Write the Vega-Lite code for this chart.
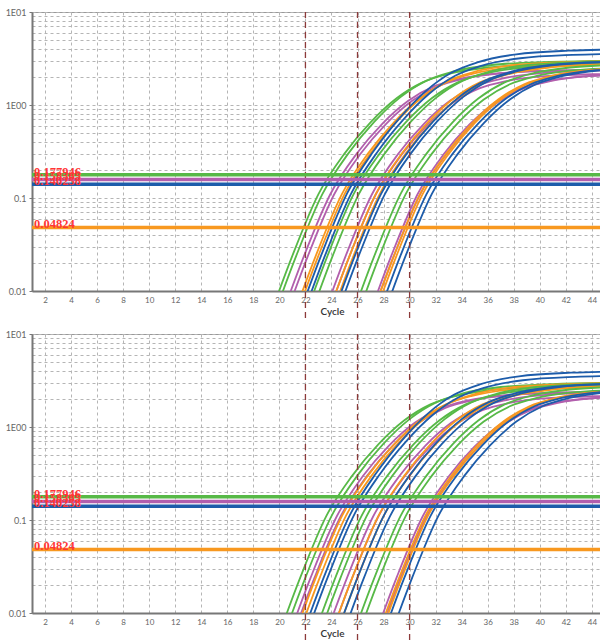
{
"$schema":"https://vega.github.io/schema/vega-lite/v6.json",
"padding":{"top":7,"left":0,"right":0,"bottom":0},
"config":{"view":{"stroke":"#999","strokeWidth":1},"font":"Lato",
"axisX":{"labelOverlap":false,"labelSeparation":0,"labelFontSize":8,"labelColor":"#666","tickSize":0,"labelPadding":5,"domainColor":"#777","domainWidth":2,"gridColor":"#b5b5b5","gridDash":[3,3],"titleFontSize":10,"titleFontWeight":600,"titleColor":"#333","titlePadding":2,"titleX":300,"labelFont":"Lato","titleFont":"Lato","labelFlush":false},
"axisY":{"labelOverlap":false,"labelFontSize":9,"labelColor":"#666","tickSize":3,"tickColor":"#777","labelPadding":3,"minExtent":31,"maxExtent":31,"domainColor":"#777","domainWidth":2,"gridColor":"#b5b5b5","gridDash":[3,3],"labelFont":"Lato"}},
"spacing":7,
"datasets":{
"thr":[{"c":"g","v":0.177946,"l":"0.177946"},{"c":"p","v":0.158365,"l":"0.158365"},{"c":"b","v":0.140258,"l":"0.140258"},{"c":"o","v":0.04824,"l":"0.04824"}],
"vl":[{"x":22},{"x":26},{"x":30}],
"top":[
{"i":"G1","c":"g","x":19,"y":0.0042},{"i":"G1","c":"g","x":21,"y":0.024},{"i":"G1","c":"g","x":23,"y":0.11},{"i":"G1","c":"g","x":25,"y":0.30},{"i":"G1","c":"g","x":27,"y":0.65},{"i":"G1","c":"g","x":29,"y":1.18},{"i":"G1","c":"g","x":31,"y":1.75},{"i":"G1","c":"g","x":33,"y":2.16},{"i":"G1","c":"g","x":36,"y":2.53},{"i":"G1","c":"g","x":40,"y":2.71},{"i":"G1","c":"g","x":46,"y":2.80},
{"i":"G2","c":"g","x":19.3,"y":0.0042},{"i":"G2","c":"g","x":21.3,"y":0.024},{"i":"G2","c":"g","x":23.3,"y":0.11},{"i":"G2","c":"g","x":25.3,"y":0.302},{"i":"G2","c":"g","x":27.3,"y":0.661},{"i":"G2","c":"g","x":29.3,"y":1.215},{"i":"G2","c":"g","x":31.3,"y":1.828},{"i":"G2","c":"g","x":33.3,"y":2.279},{"i":"G2","c":"g","x":36.3,"y":2.693},{"i":"G2","c":"g","x":40.3,"y":2.897},{"i":"G2","c":"g","x":46.3,"y":3.0},
{"i":"P1","c":"p","x":19.9,"y":0.0042},{"i":"P1","c":"p","x":21.9,"y":0.024},{"i":"P1","c":"p","x":23.9,"y":0.109},{"i":"P1","c":"p","x":25.9,"y":0.295},{"i":"P1","c":"p","x":27.9,"y":0.628},{"i":"P1","c":"p","x":29.9,"y":1.109},{"i":"P1","c":"p","x":31.9,"y":1.594},{"i":"P1","c":"p","x":33.9,"y":1.922},{"i":"P1","c":"p","x":36.9,"y":2.203},{"i":"P1","c":"p","x":40.9,"y":2.335},{"i":"P1","c":"p","x":46.9,"y":2.4},
{"i":"P2","c":"p","x":20.2,"y":0.0042},{"i":"P2","c":"p","x":22.2,"y":0.024},{"i":"P2","c":"p","x":24.2,"y":0.109},{"i":"P2","c":"p","x":26.2,"y":0.295},{"i":"P2","c":"p","x":28.2,"y":0.628},{"i":"P2","c":"p","x":30.2,"y":1.109},{"i":"P2","c":"p","x":32.2,"y":1.594},{"i":"P2","c":"p","x":34.2,"y":1.922},{"i":"P2","c":"p","x":37.2,"y":2.203},{"i":"P2","c":"p","x":41.2,"y":2.335},{"i":"P2","c":"p","x":47.2,"y":2.4},
{"i":"O1","c":"o","x":20.8,"y":0.0042},{"i":"O1","c":"o","x":22.8,"y":0.024},{"i":"O1","c":"o","x":24.8,"y":0.11},{"i":"O1","c":"o","x":26.8,"y":0.30},{"i":"O1","c":"o","x":28.8,"y":0.65},{"i":"O1","c":"o","x":30.8,"y":1.18},{"i":"O1","c":"o","x":32.8,"y":1.75},{"i":"O1","c":"o","x":34.8,"y":2.16},{"i":"O1","c":"o","x":37.8,"y":2.53},{"i":"O1","c":"o","x":41.8,"y":2.71},{"i":"O1","c":"o","x":47.8,"y":2.80},
{"i":"O2","c":"o","x":21,"y":0.0042},{"i":"O2","c":"o","x":23,"y":0.024},{"i":"O2","c":"o","x":25,"y":0.11},{"i":"O2","c":"o","x":27,"y":0.302},{"i":"O2","c":"o","x":29,"y":0.661},{"i":"O2","c":"o","x":31,"y":1.215},{"i":"O2","c":"o","x":33,"y":1.828},{"i":"O2","c":"o","x":35,"y":2.279},{"i":"O2","c":"o","x":38,"y":2.693},{"i":"O2","c":"o","x":42,"y":2.897},{"i":"O2","c":"o","x":48,"y":3.0},
{"i":"B1","c":"b","x":21.2,"y":0.0042},{"i":"B1","c":"b","x":23.2,"y":0.024},{"i":"B1","c":"b","x":25.2,"y":0.112},{"i":"B1","c":"b","x":27.2,"y":0.314},{"i":"B1","c":"b","x":29.2,"y":0.715},{"i":"B1","c":"b","x":31.2,"y":1.393},{"i":"B1","c":"b","x":33.2,"y":2.219},{"i":"B1","c":"b","x":35.2,"y":2.874},{"i":"B1","c":"b","x":38.2,"y":3.509},{"i":"B1","c":"b","x":42.2,"y":3.835},{"i":"B1","c":"b","x":48.2,"y":4.0},
{"i":"B2","c":"b","x":21.5,"y":0.0042},{"i":"B2","c":"b","x":23.5,"y":0.024},{"i":"B2","c":"b","x":25.5,"y":0.111},{"i":"B2","c":"b","x":27.5,"y":0.309},{"i":"B2","c":"b","x":29.5,"y":0.693},{"i":"B2","c":"b","x":31.5,"y":1.322},{"i":"B2","c":"b","x":33.5,"y":2.063},{"i":"B2","c":"b","x":35.5,"y":2.636},{"i":"B2","c":"b","x":38.5,"y":3.183},{"i":"B2","c":"b","x":42.5,"y":3.461},{"i":"B2","c":"b","x":48.5,"y":3.6},
{"i":"G3","c":"g","x":21.7,"y":0.0042},{"i":"G3","c":"g","x":23.7,"y":0.024},{"i":"G3","c":"g","x":25.7,"y":0.11},{"i":"G3","c":"g","x":27.7,"y":0.30},{"i":"G3","c":"g","x":29.7,"y":0.65},{"i":"G3","c":"g","x":31.7,"y":1.18},{"i":"G3","c":"g","x":33.7,"y":1.75},{"i":"G3","c":"g","x":35.7,"y":2.16},{"i":"G3","c":"g","x":38.7,"y":2.53},{"i":"G3","c":"g","x":42.7,"y":2.71},{"i":"G3","c":"g","x":48.7,"y":2.80},
{"i":"G4","c":"g","x":22.1,"y":0.0042},{"i":"G4","c":"g","x":24.1,"y":0.024},{"i":"G4","c":"g","x":26.1,"y":0.11},{"i":"G4","c":"g","x":28.1,"y":0.302},{"i":"G4","c":"g","x":30.1,"y":0.661},{"i":"G4","c":"g","x":32.1,"y":1.215},{"i":"G4","c":"g","x":34.1,"y":1.828},{"i":"G4","c":"g","x":36.1,"y":2.279},{"i":"G4","c":"g","x":39.1,"y":2.693},{"i":"G4","c":"g","x":43.1,"y":2.897},{"i":"G4","c":"g","x":49.1,"y":3.0},
{"i":"P3","c":"p","x":23.1,"y":0.0042},{"i":"P3","c":"p","x":25.1,"y":0.024},{"i":"P3","c":"p","x":27.1,"y":0.109},{"i":"P3","c":"p","x":29.1,"y":0.295},{"i":"P3","c":"p","x":31.1,"y":0.628},{"i":"P3","c":"p","x":33.1,"y":1.109},{"i":"P3","c":"p","x":35.1,"y":1.594},{"i":"P3","c":"p","x":37.1,"y":1.922},{"i":"P3","c":"p","x":40.1,"y":2.203},{"i":"P3","c":"p","x":44.1,"y":2.335},{"i":"P3","c":"p","x":50.1,"y":2.4},
{"i":"P4","c":"p","x":23.4,"y":0.0042},{"i":"P4","c":"p","x":25.4,"y":0.024},{"i":"P4","c":"p","x":27.4,"y":0.109},{"i":"P4","c":"p","x":29.4,"y":0.293},{"i":"P4","c":"p","x":31.4,"y":0.618},{"i":"P4","c":"p","x":33.4,"y":1.074},{"i":"P4","c":"p","x":35.4,"y":1.516},{"i":"P4","c":"p","x":37.4,"y":1.804},{"i":"P4","c":"p","x":40.4,"y":2.039},{"i":"P4","c":"p","x":44.4,"y":2.149},{"i":"P4","c":"p","x":50.4,"y":2.2},
{"i":"O3","c":"o","x":23.4,"y":0.0042},{"i":"O3","c":"o","x":25.4,"y":0.024},{"i":"O3","c":"o","x":27.4,"y":0.11},{"i":"O3","c":"o","x":29.4,"y":0.30},{"i":"O3","c":"o","x":31.4,"y":0.65},{"i":"O3","c":"o","x":33.4,"y":1.18},{"i":"O3","c":"o","x":35.4,"y":1.75},{"i":"O3","c":"o","x":37.4,"y":2.16},{"i":"O3","c":"o","x":40.4,"y":2.53},{"i":"O3","c":"o","x":44.4,"y":2.71},{"i":"O3","c":"o","x":50.4,"y":2.80},
{"i":"O4","c":"o","x":23.7,"y":0.0042},{"i":"O4","c":"o","x":25.7,"y":0.024},{"i":"O4","c":"o","x":27.7,"y":0.11},{"i":"O4","c":"o","x":29.7,"y":0.30},{"i":"O4","c":"o","x":31.7,"y":0.65},{"i":"O4","c":"o","x":33.7,"y":1.18},{"i":"O4","c":"o","x":35.7,"y":1.75},{"i":"O4","c":"o","x":37.7,"y":2.16},{"i":"O4","c":"o","x":40.7,"y":2.53},{"i":"O4","c":"o","x":44.7,"y":2.71},{"i":"O4","c":"o","x":50.7,"y":2.80},
{"i":"B3","c":"b","x":23.8,"y":0.0042},{"i":"B3","c":"b","x":25.8,"y":0.024},{"i":"B3","c":"b","x":27.8,"y":0.11},{"i":"B3","c":"b","x":29.8,"y":0.302},{"i":"B3","c":"b","x":31.8,"y":0.661},{"i":"B3","c":"b","x":33.8,"y":1.215},{"i":"B3","c":"b","x":35.8,"y":1.828},{"i":"B3","c":"b","x":37.8,"y":2.279},{"i":"B3","c":"b","x":40.8,"y":2.693},{"i":"B3","c":"b","x":44.8,"y":2.897},
{"i":"B4","c":"b","x":24.1,"y":0.0042},{"i":"B4","c":"b","x":26.1,"y":0.024},{"i":"B4","c":"b","x":28.1,"y":0.11},{"i":"B4","c":"b","x":30.1,"y":0.302},{"i":"B4","c":"b","x":32.1,"y":0.661},{"i":"B4","c":"b","x":34.1,"y":1.215},{"i":"B4","c":"b","x":36.1,"y":1.828},{"i":"B4","c":"b","x":38.1,"y":2.279},{"i":"B4","c":"b","x":41.1,"y":2.693},{"i":"B4","c":"b","x":45.1,"y":2.897},
{"i":"G5","c":"g","x":25.3,"y":0.0042},{"i":"G5","c":"g","x":27.3,"y":0.024},{"i":"G5","c":"g","x":29.3,"y":0.11},{"i":"G5","c":"g","x":31.3,"y":0.30},{"i":"G5","c":"g","x":33.3,"y":0.65},{"i":"G5","c":"g","x":35.3,"y":1.18},{"i":"G5","c":"g","x":37.3,"y":1.75},{"i":"G5","c":"g","x":39.3,"y":2.16},{"i":"G5","c":"g","x":42.3,"y":2.53},{"i":"G5","c":"g","x":46.3,"y":2.71},
{"i":"G6","c":"g","x":25.7,"y":0.0042},{"i":"G6","c":"g","x":27.7,"y":0.024},{"i":"G6","c":"g","x":29.7,"y":0.11},{"i":"G6","c":"g","x":31.7,"y":0.298},{"i":"G6","c":"g","x":33.7,"y":0.639},{"i":"G6","c":"g","x":35.7,"y":1.145},{"i":"G6","c":"g","x":37.7,"y":1.672},{"i":"G6","c":"g","x":39.7,"y":2.041},{"i":"G6","c":"g","x":42.7,"y":2.367},{"i":"G6","c":"g","x":46.7,"y":2.523},
{"i":"P5","c":"p","x":26.6,"y":0.0042},{"i":"P5","c":"p","x":28.6,"y":0.024},{"i":"P5","c":"p","x":30.6,"y":0.109},{"i":"P5","c":"p","x":32.6,"y":0.293},{"i":"P5","c":"p","x":34.6,"y":0.618},{"i":"P5","c":"p","x":36.6,"y":1.074},{"i":"P5","c":"p","x":38.6,"y":1.516},{"i":"P5","c":"p","x":40.6,"y":1.804},{"i":"P5","c":"p","x":43.6,"y":2.039},{"i":"P5","c":"p","x":47.6,"y":2.149},
{"i":"P6","c":"p","x":26.8,"y":0.0042},{"i":"P6","c":"p","x":28.8,"y":0.024},{"i":"P6","c":"p","x":30.8,"y":0.109},{"i":"P6","c":"p","x":32.8,"y":0.293},{"i":"P6","c":"p","x":34.8,"y":0.618},{"i":"P6","c":"p","x":36.8,"y":1.074},{"i":"P6","c":"p","x":38.8,"y":1.516},{"i":"P6","c":"p","x":40.8,"y":1.804},{"i":"P6","c":"p","x":43.8,"y":2.039},{"i":"P6","c":"p","x":47.8,"y":2.149},
{"i":"O5","c":"o","x":26.8,"y":0.0042},{"i":"O5","c":"o","x":28.8,"y":0.024},{"i":"O5","c":"o","x":30.8,"y":0.11},{"i":"O5","c":"o","x":32.8,"y":0.298},{"i":"O5","c":"o","x":34.8,"y":0.639},{"i":"O5","c":"o","x":36.8,"y":1.145},{"i":"O5","c":"o","x":38.8,"y":1.672},{"i":"O5","c":"o","x":40.8,"y":2.041},{"i":"O5","c":"o","x":43.8,"y":2.367},{"i":"O5","c":"o","x":47.8,"y":2.523},
{"i":"O6","c":"o","x":27,"y":0.0042},{"i":"O6","c":"o","x":29,"y":0.024},{"i":"O6","c":"o","x":31,"y":0.11},{"i":"O6","c":"o","x":33,"y":0.298},{"i":"O6","c":"o","x":35,"y":0.639},{"i":"O6","c":"o","x":37,"y":1.145},{"i":"O6","c":"o","x":39,"y":1.672},{"i":"O6","c":"o","x":41,"y":2.041},{"i":"O6","c":"o","x":44,"y":2.367},{"i":"O6","c":"o","x":48,"y":2.523},
{"i":"B5","c":"b","x":27.3,"y":0.0042},{"i":"B5","c":"b","x":29.3,"y":0.024},{"i":"B5","c":"b","x":31.3,"y":0.11},{"i":"B5","c":"b","x":33.3,"y":0.298},{"i":"B5","c":"b","x":35.3,"y":0.639},{"i":"B5","c":"b","x":37.3,"y":1.145},{"i":"B5","c":"b","x":39.3,"y":1.672},{"i":"B5","c":"b","x":41.3,"y":2.041},{"i":"B5","c":"b","x":44.3,"y":2.367},{"i":"B5","c":"b","x":48.3,"y":2.523},
{"i":"B6","c":"b","x":27.7,"y":0.0042},{"i":"B6","c":"b","x":29.7,"y":0.024},{"i":"B6","c":"b","x":31.7,"y":0.11},{"i":"B6","c":"b","x":33.7,"y":0.298},{"i":"B6","c":"b","x":35.7,"y":0.639},{"i":"B6","c":"b","x":37.7,"y":1.145},{"i":"B6","c":"b","x":39.7,"y":1.672},{"i":"B6","c":"b","x":41.7,"y":2.041},{"i":"B6","c":"b","x":44.7,"y":2.367},{"i":"B6","c":"b","x":48.7,"y":2.523}
],
"bot":[
{"i":"G1","c":"g","x":19.6,"y":0.0042},{"i":"G1","c":"g","x":21.6,"y":0.024},{"i":"G1","c":"g","x":23.6,"y":0.11},{"i":"G1","c":"g","x":25.6,"y":0.30},{"i":"G1","c":"g","x":27.6,"y":0.65},{"i":"G1","c":"g","x":29.6,"y":1.18},{"i":"G1","c":"g","x":31.6,"y":1.75},{"i":"G1","c":"g","x":33.6,"y":2.16},{"i":"G1","c":"g","x":36.6,"y":2.53},{"i":"G1","c":"g","x":40.6,"y":2.71},{"i":"G1","c":"g","x":46.6,"y":2.80},
{"i":"G2","c":"g","x":20,"y":0.0042},{"i":"G2","c":"g","x":22,"y":0.024},{"i":"G2","c":"g","x":24,"y":0.11},{"i":"G2","c":"g","x":26,"y":0.302},{"i":"G2","c":"g","x":28,"y":0.661},{"i":"G2","c":"g","x":30,"y":1.215},{"i":"G2","c":"g","x":32,"y":1.828},{"i":"G2","c":"g","x":34,"y":2.279},{"i":"G2","c":"g","x":37,"y":2.693},{"i":"G2","c":"g","x":41,"y":2.897},{"i":"G2","c":"g","x":47,"y":3.0},
{"i":"P1","c":"p","x":20.4,"y":0.0042},{"i":"P1","c":"p","x":22.4,"y":0.024},{"i":"P1","c":"p","x":24.4,"y":0.109},{"i":"P1","c":"p","x":26.4,"y":0.295},{"i":"P1","c":"p","x":28.4,"y":0.628},{"i":"P1","c":"p","x":30.4,"y":1.109},{"i":"P1","c":"p","x":32.4,"y":1.594},{"i":"P1","c":"p","x":34.4,"y":1.922},{"i":"P1","c":"p","x":37.4,"y":2.203},{"i":"P1","c":"p","x":41.4,"y":2.335},{"i":"P1","c":"p","x":47.4,"y":2.4},
{"i":"P2","c":"p","x":20.7,"y":0.0042},{"i":"P2","c":"p","x":22.7,"y":0.024},{"i":"P2","c":"p","x":24.7,"y":0.109},{"i":"P2","c":"p","x":26.7,"y":0.295},{"i":"P2","c":"p","x":28.7,"y":0.628},{"i":"P2","c":"p","x":30.7,"y":1.109},{"i":"P2","c":"p","x":32.7,"y":1.594},{"i":"P2","c":"p","x":34.7,"y":1.922},{"i":"P2","c":"p","x":37.7,"y":2.203},{"i":"P2","c":"p","x":41.7,"y":2.335},{"i":"P2","c":"p","x":47.7,"y":2.4},
{"i":"O1","c":"o","x":20.8,"y":0.0042},{"i":"O1","c":"o","x":22.8,"y":0.024},{"i":"O1","c":"o","x":24.8,"y":0.11},{"i":"O1","c":"o","x":26.8,"y":0.30},{"i":"O1","c":"o","x":28.8,"y":0.65},{"i":"O1","c":"o","x":30.8,"y":1.18},{"i":"O1","c":"o","x":32.8,"y":1.75},{"i":"O1","c":"o","x":34.8,"y":2.16},{"i":"O1","c":"o","x":37.8,"y":2.53},{"i":"O1","c":"o","x":41.8,"y":2.71},{"i":"O1","c":"o","x":47.8,"y":2.80},
{"i":"O2","c":"o","x":21.1,"y":0.0042},{"i":"O2","c":"o","x":23.1,"y":0.024},{"i":"O2","c":"o","x":25.1,"y":0.11},{"i":"O2","c":"o","x":27.1,"y":0.302},{"i":"O2","c":"o","x":29.1,"y":0.661},{"i":"O2","c":"o","x":31.1,"y":1.215},{"i":"O2","c":"o","x":33.1,"y":1.828},{"i":"O2","c":"o","x":35.1,"y":2.279},{"i":"O2","c":"o","x":38.1,"y":2.693},{"i":"O2","c":"o","x":42.1,"y":2.897},{"i":"O2","c":"o","x":48.1,"y":3.0},
{"i":"B1","c":"b","x":21.4,"y":0.0042},{"i":"B1","c":"b","x":23.4,"y":0.024},{"i":"B1","c":"b","x":25.4,"y":0.112},{"i":"B1","c":"b","x":27.4,"y":0.314},{"i":"B1","c":"b","x":29.4,"y":0.715},{"i":"B1","c":"b","x":31.4,"y":1.393},{"i":"B1","c":"b","x":33.4,"y":2.219},{"i":"B1","c":"b","x":35.4,"y":2.874},{"i":"B1","c":"b","x":38.4,"y":3.509},{"i":"B1","c":"b","x":42.4,"y":3.835},{"i":"B1","c":"b","x":48.4,"y":4.0},
{"i":"B2","c":"b","x":21.7,"y":0.0042},{"i":"B2","c":"b","x":23.7,"y":0.024},{"i":"B2","c":"b","x":25.7,"y":0.111},{"i":"B2","c":"b","x":27.7,"y":0.309},{"i":"B2","c":"b","x":29.7,"y":0.693},{"i":"B2","c":"b","x":31.7,"y":1.322},{"i":"B2","c":"b","x":33.7,"y":2.063},{"i":"B2","c":"b","x":35.7,"y":2.636},{"i":"B2","c":"b","x":38.7,"y":3.183},{"i":"B2","c":"b","x":42.7,"y":3.461},{"i":"B2","c":"b","x":48.7,"y":3.6},
{"i":"G3","c":"g","x":22.3,"y":0.0042},{"i":"G3","c":"g","x":24.3,"y":0.024},{"i":"G3","c":"g","x":26.3,"y":0.11},{"i":"G3","c":"g","x":28.3,"y":0.30},{"i":"G3","c":"g","x":30.3,"y":0.65},{"i":"G3","c":"g","x":32.3,"y":1.18},{"i":"G3","c":"g","x":34.3,"y":1.75},{"i":"G3","c":"g","x":36.3,"y":2.16},{"i":"G3","c":"g","x":39.3,"y":2.53},{"i":"G3","c":"g","x":43.3,"y":2.71},{"i":"G3","c":"g","x":49.3,"y":2.80},
{"i":"G4","c":"g","x":22.7,"y":0.0042},{"i":"G4","c":"g","x":24.7,"y":0.024},{"i":"G4","c":"g","x":26.7,"y":0.11},{"i":"G4","c":"g","x":28.7,"y":0.302},{"i":"G4","c":"g","x":30.7,"y":0.661},{"i":"G4","c":"g","x":32.7,"y":1.215},{"i":"G4","c":"g","x":34.7,"y":1.828},{"i":"G4","c":"g","x":36.7,"y":2.279},{"i":"G4","c":"g","x":39.7,"y":2.693},{"i":"G4","c":"g","x":43.7,"y":2.897},{"i":"G4","c":"g","x":49.7,"y":3.0},
{"i":"P3","c":"p","x":23.2,"y":0.0042},{"i":"P3","c":"p","x":25.2,"y":0.024},{"i":"P3","c":"p","x":27.2,"y":0.109},{"i":"P3","c":"p","x":29.2,"y":0.295},{"i":"P3","c":"p","x":31.2,"y":0.628},{"i":"P3","c":"p","x":33.2,"y":1.109},{"i":"P3","c":"p","x":35.2,"y":1.594},{"i":"P3","c":"p","x":37.2,"y":1.922},{"i":"P3","c":"p","x":40.2,"y":2.203},{"i":"P3","c":"p","x":44.2,"y":2.335},{"i":"P3","c":"p","x":50.2,"y":2.4},
{"i":"P4","c":"p","x":23.6,"y":0.0042},{"i":"P4","c":"p","x":25.6,"y":0.024},{"i":"P4","c":"p","x":27.6,"y":0.109},{"i":"P4","c":"p","x":29.6,"y":0.293},{"i":"P4","c":"p","x":31.6,"y":0.618},{"i":"P4","c":"p","x":33.6,"y":1.074},{"i":"P4","c":"p","x":35.6,"y":1.516},{"i":"P4","c":"p","x":37.6,"y":1.804},{"i":"P4","c":"p","x":40.6,"y":2.039},{"i":"P4","c":"p","x":44.6,"y":2.149},{"i":"P4","c":"p","x":50.6,"y":2.2},
{"i":"O3","c":"o","x":23.6,"y":0.0042},{"i":"O3","c":"o","x":25.6,"y":0.024},{"i":"O3","c":"o","x":27.6,"y":0.11},{"i":"O3","c":"o","x":29.6,"y":0.30},{"i":"O3","c":"o","x":31.6,"y":0.65},{"i":"O3","c":"o","x":33.6,"y":1.18},{"i":"O3","c":"o","x":35.6,"y":1.75},{"i":"O3","c":"o","x":37.6,"y":2.16},{"i":"O3","c":"o","x":40.6,"y":2.53},{"i":"O3","c":"o","x":44.6,"y":2.71},{"i":"O3","c":"o","x":50.6,"y":2.80},
{"i":"O4","c":"o","x":24,"y":0.0042},{"i":"O4","c":"o","x":26,"y":0.024},{"i":"O4","c":"o","x":28,"y":0.11},{"i":"O4","c":"o","x":30,"y":0.30},{"i":"O4","c":"o","x":32,"y":0.65},{"i":"O4","c":"o","x":34,"y":1.18},{"i":"O4","c":"o","x":36,"y":1.75},{"i":"O4","c":"o","x":38,"y":2.16},{"i":"O4","c":"o","x":41,"y":2.53},{"i":"O4","c":"o","x":45,"y":2.71},
{"i":"B3","c":"b","x":24,"y":0.0042},{"i":"B3","c":"b","x":26,"y":0.024},{"i":"B3","c":"b","x":28,"y":0.11},{"i":"B3","c":"b","x":30,"y":0.302},{"i":"B3","c":"b","x":32,"y":0.661},{"i":"B3","c":"b","x":34,"y":1.215},{"i":"B3","c":"b","x":36,"y":1.828},{"i":"B3","c":"b","x":38,"y":2.279},{"i":"B3","c":"b","x":41,"y":2.693},{"i":"B3","c":"b","x":45,"y":2.897},
{"i":"B4","c":"b","x":24.5,"y":0.0042},{"i":"B4","c":"b","x":26.5,"y":0.024},{"i":"B4","c":"b","x":28.5,"y":0.11},{"i":"B4","c":"b","x":30.5,"y":0.302},{"i":"B4","c":"b","x":32.5,"y":0.661},{"i":"B4","c":"b","x":34.5,"y":1.215},{"i":"B4","c":"b","x":36.5,"y":1.828},{"i":"B4","c":"b","x":38.5,"y":2.279},{"i":"B4","c":"b","x":41.5,"y":2.693},{"i":"B4","c":"b","x":45.5,"y":2.897},
{"i":"G5","c":"g","x":25.3,"y":0.0042},{"i":"G5","c":"g","x":27.3,"y":0.024},{"i":"G5","c":"g","x":29.3,"y":0.11},{"i":"G5","c":"g","x":31.3,"y":0.30},{"i":"G5","c":"g","x":33.3,"y":0.65},{"i":"G5","c":"g","x":35.3,"y":1.18},{"i":"G5","c":"g","x":37.3,"y":1.75},{"i":"G5","c":"g","x":39.3,"y":2.16},{"i":"G5","c":"g","x":42.3,"y":2.53},{"i":"G5","c":"g","x":46.3,"y":2.71},
{"i":"G6","c":"g","x":25.7,"y":0.0042},{"i":"G6","c":"g","x":27.7,"y":0.024},{"i":"G6","c":"g","x":29.7,"y":0.11},{"i":"G6","c":"g","x":31.7,"y":0.298},{"i":"G6","c":"g","x":33.7,"y":0.639},{"i":"G6","c":"g","x":35.7,"y":1.145},{"i":"G6","c":"g","x":37.7,"y":1.672},{"i":"G6","c":"g","x":39.7,"y":2.041},{"i":"G6","c":"g","x":42.7,"y":2.367},{"i":"G6","c":"g","x":46.7,"y":2.523},
{"i":"P5","c":"p","x":27,"y":0.0042},{"i":"P5","c":"p","x":29,"y":0.024},{"i":"P5","c":"p","x":31,"y":0.109},{"i":"P5","c":"p","x":33,"y":0.293},{"i":"P5","c":"p","x":35,"y":0.618},{"i":"P5","c":"p","x":37,"y":1.074},{"i":"P5","c":"p","x":39,"y":1.516},{"i":"P5","c":"p","x":41,"y":1.804},{"i":"P5","c":"p","x":44,"y":2.039},{"i":"P5","c":"p","x":48,"y":2.149},
{"i":"P6","c":"p","x":27.3,"y":0.0042},{"i":"P6","c":"p","x":29.3,"y":0.024},{"i":"P6","c":"p","x":31.3,"y":0.109},{"i":"P6","c":"p","x":33.3,"y":0.293},{"i":"P6","c":"p","x":35.3,"y":0.618},{"i":"P6","c":"p","x":37.3,"y":1.074},{"i":"P6","c":"p","x":39.3,"y":1.516},{"i":"P6","c":"p","x":41.3,"y":1.804},{"i":"P6","c":"p","x":44.3,"y":2.039},{"i":"P6","c":"p","x":48.3,"y":2.149},
{"i":"O5","c":"o","x":27.2,"y":0.0042},{"i":"O5","c":"o","x":29.2,"y":0.024},{"i":"O5","c":"o","x":31.2,"y":0.11},{"i":"O5","c":"o","x":33.2,"y":0.298},{"i":"O5","c":"o","x":35.2,"y":0.639},{"i":"O5","c":"o","x":37.2,"y":1.145},{"i":"O5","c":"o","x":39.2,"y":1.672},{"i":"O5","c":"o","x":41.2,"y":2.041},{"i":"O5","c":"o","x":44.2,"y":2.367},{"i":"O5","c":"o","x":48.2,"y":2.523},
{"i":"O6","c":"o","x":27.4,"y":0.0042},{"i":"O6","c":"o","x":29.4,"y":0.024},{"i":"O6","c":"o","x":31.4,"y":0.11},{"i":"O6","c":"o","x":33.4,"y":0.298},{"i":"O6","c":"o","x":35.4,"y":0.639},{"i":"O6","c":"o","x":37.4,"y":1.145},{"i":"O6","c":"o","x":39.4,"y":1.672},{"i":"O6","c":"o","x":41.4,"y":2.041},{"i":"O6","c":"o","x":44.4,"y":2.367},{"i":"O6","c":"o","x":48.4,"y":2.523},
{"i":"B5","c":"b","x":27.6,"y":0.0042},{"i":"B5","c":"b","x":29.6,"y":0.024},{"i":"B5","c":"b","x":31.6,"y":0.11},{"i":"B5","c":"b","x":33.6,"y":0.298},{"i":"B5","c":"b","x":35.6,"y":0.639},{"i":"B5","c":"b","x":37.6,"y":1.145},{"i":"B5","c":"b","x":39.6,"y":1.672},{"i":"B5","c":"b","x":41.6,"y":2.041},{"i":"B5","c":"b","x":44.6,"y":2.367},{"i":"B5","c":"b","x":48.6,"y":2.523},
{"i":"B6","c":"b","x":28.2,"y":0.0042},{"i":"B6","c":"b","x":30.2,"y":0.024},{"i":"B6","c":"b","x":32.2,"y":0.11},{"i":"B6","c":"b","x":34.2,"y":0.298},{"i":"B6","c":"b","x":36.2,"y":0.639},{"i":"B6","c":"b","x":38.2,"y":1.145},{"i":"B6","c":"b","x":40.2,"y":1.672},{"i":"B6","c":"b","x":42.2,"y":2.041},{"i":"B6","c":"b","x":45.2,"y":2.367}
]
},
"vconcat":[
{"width":569,"height":279,
"layer":[
{"data":{"name":"top"},"mark":{"type":"line","interpolate":"monotone","strokeWidth":1.8,"clip":true},
"encoding":{
"x":{"field":"x","type":"quantitative","scale":{"domain":[1,44.7],"nice":false,"zero":false},"axis":{"title":"Cycle","values":[2,4,6,8,10,12,14,16,18,20,22,24,26,28,30,32,34,36,38,40,42,44],"labelOverlap":false}},
"y":{"field":"y","type":"quantitative","scale":{"type":"log","domain":[0.01,10],"nice":false},"axis":{"title":null,"values":[0.01,0.02,0.03,0.04,0.05,0.06,0.07,0.08,0.09,0.1,0.2,0.3,0.4,0.5,0.6,0.7,0.8,0.9,1,2,3,4,5,6,7,8,9,10],"labelExpr":"datum.value==10?'1E01':datum.value==1?'1E00':datum.value==0.1?'0.1':datum.value==0.01?'0.01':''","labelOverlap":false,"tickOpacity":{"condition":{"test":"datum.value==10||datum.value==1||datum.value==0.1||datum.value==0.01","value":1},"value":0}}},
"color":{"field":"c","type":"nominal","scale":{"domain":["g","p","o","b"],"range":["#57b947","#b25fad","#f8981f","#1d5caa"]},"legend":null},
"detail":{"field":"i"}}},
{"data":{"name":"vl"},"mark":{"type":"rule","color":"#8c3a3a","strokeDash":[6,4],"strokeWidth":1.3,"clip":false},
"encoding":{"x":{"field":"x","type":"quantitative","axis":{"title":"Cycle","values":[2,4,6,8,10,12,14,16,18,20,22,24,26,28,30,32,34,36,38,40,42,44],"labelOverlap":false}},"y":{"datum":10},"y2":{"datum":0.0048}}},
{"data":{"name":"thr"},"mark":{"type":"rule","strokeWidth":3.5},
"encoding":{"y":{"field":"v","type":"quantitative"},"color":{"field":"c","type":"nominal","legend":null}}},
{"data":{"name":"thr"},"mark":{"type":"text","align":"left","baseline":"alphabetic","dx":2,"dy":1,"font":"Liberation Serif","fontWeight":"bold","fontSize":12.5,"color":"#ff3636"},
"encoding":{"x":{"datum":1,"type":"quantitative","axis":{"title":"Cycle","values":[2,4,6,8,10,12,14,16,18,20,22,24,26,28,30,32,34,36,38,40,42,44],"labelOverlap":false}},"y":{"field":"v","type":"quantitative"},"text":{"field":"l"}}}
]},
{"width":569,"height":279,
"layer":[
{"data":{"name":"bot"},"mark":{"type":"line","interpolate":"monotone","strokeWidth":1.8,"clip":true},
"encoding":{
"x":{"field":"x","type":"quantitative","scale":{"domain":[1,44.7],"nice":false,"zero":false},"axis":{"title":"Cycle","values":[2,4,6,8,10,12,14,16,18,20,22,24,26,28,30,32,34,36,38,40,42,44],"labelOverlap":false}},
"y":{"field":"y","type":"quantitative","scale":{"type":"log","domain":[0.01,10],"nice":false},"axis":{"title":null,"values":[0.01,0.02,0.03,0.04,0.05,0.06,0.07,0.08,0.09,0.1,0.2,0.3,0.4,0.5,0.6,0.7,0.8,0.9,1,2,3,4,5,6,7,8,9,10],"labelExpr":"datum.value==10?'1E01':datum.value==1?'1E00':datum.value==0.1?'0.1':datum.value==0.01?'0.01':''","labelOverlap":false,"tickOpacity":{"condition":{"test":"datum.value==10||datum.value==1||datum.value==0.1||datum.value==0.01","value":1},"value":0}}},
"color":{"field":"c","type":"nominal","scale":{"domain":["g","p","o","b"],"range":["#57b947","#b25fad","#f8981f","#1d5caa"]},"legend":null},
"detail":{"field":"i"}}},
{"data":{"name":"vl"},"mark":{"type":"rule","color":"#8c3a3a","strokeDash":[6,4],"strokeWidth":1.3,"clip":false},
"encoding":{"x":{"field":"x","type":"quantitative","axis":{"title":"Cycle","values":[2,4,6,8,10,12,14,16,18,20,22,24,26,28,30,32,34,36,38,40,42,44],"labelOverlap":false}},"y":{"datum":10},"y2":{"datum":0.0048}}},
{"data":{"name":"thr"},"mark":{"type":"rule","strokeWidth":3.5},
"encoding":{"y":{"field":"v","type":"quantitative"},"color":{"field":"c","type":"nominal","legend":null}}},
{"data":{"name":"thr"},"mark":{"type":"text","align":"left","baseline":"alphabetic","dx":2,"dy":1,"font":"Liberation Serif","fontWeight":"bold","fontSize":12.5,"color":"#ff3636"},
"encoding":{"x":{"datum":1,"type":"quantitative","axis":{"title":"Cycle","values":[2,4,6,8,10,12,14,16,18,20,22,24,26,28,30,32,34,36,38,40,42,44],"labelOverlap":false}},"y":{"field":"v","type":"quantitative"},"text":{"field":"l"}}}
]}
]
}
